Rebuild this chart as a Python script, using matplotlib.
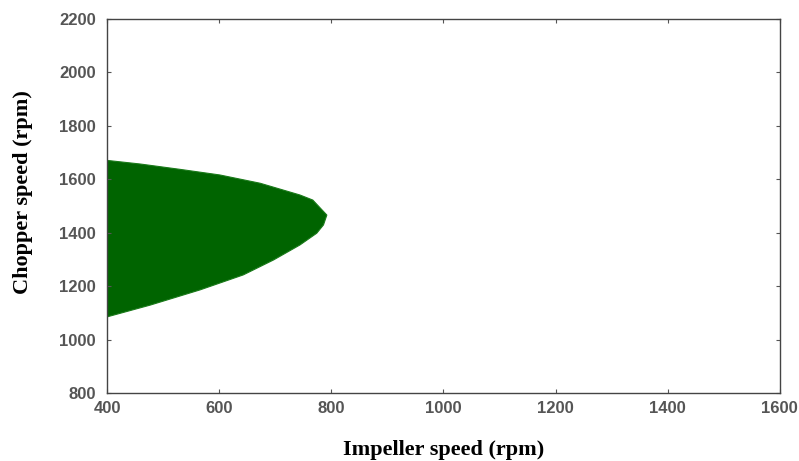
import matplotlib.pyplot as plt

# boundary of the feasible region (impeller rpm, chopper rpm)
upper_x = [400, 402, 459, 530, 601, 673, 744, 767, 792]
upper_y = [1670, 1670, 1657, 1637, 1616, 1585, 1541, 1522, 1466]
lower_x = [786, 774, 744, 697, 643, 566, 477, 402, 400]
lower_y = [1429, 1398, 1354, 1298, 1242, 1186, 1129, 1086, 1084]

x_ticks = [400, 600, 800, 1000, 1200, 1400, 1600]
y_ticks = [800, 1000, 1200, 1400, 1600, 1800, 2000, 2200]

fig = plt.figure(figsize=(7.99, 4.61), dpi=100)
ax = fig.add_axes([0.134, 0.1475, 0.842, 0.8115])

ax.fill(upper_x + lower_x, upper_y + lower_y, color='#006400', lw=0.8, ec='#1a7a1a')

ax.set_xlim(400, 1600)
ax.set_ylim(800, 2200)
ax.set_xticks(x_ticks)
ax.set_yticks(y_ticks)
ax.tick_params(direction='in', length=3, top=True, right=True, colors='#555555',
               labelsize=12, width=0.8)
ax.tick_params(axis='y', pad=8)
ax.tick_params(axis='x', pad=6)
for lab in ax.get_xticklabels() + ax.get_yticklabels():
    lab.set_fontweight('bold')
    lab.set_fontfamily('Liberation Sans')
    lab.set_color('#555555')
for s in ax.spines.values():
    s.set_color('#444444')
    s.set_linewidth(1.0)

ax.set_xlabel('Impeller speed (rpm)', fontsize=16, fontweight='bold',
              family='Liberation Serif')
ax.set_ylabel('Chopper speed (rpm)', fontsize=16, fontweight='bold',
              family='Liberation Serif')
ax.xaxis.set_label_coords(0.5, -0.152)
ax.yaxis.set_label_coords(-0.125, 0.537)
ax.xaxis.label.set_va('center')
ax.yaxis.label.set_va('center')

fig.savefig('out.png', dpi=100)
